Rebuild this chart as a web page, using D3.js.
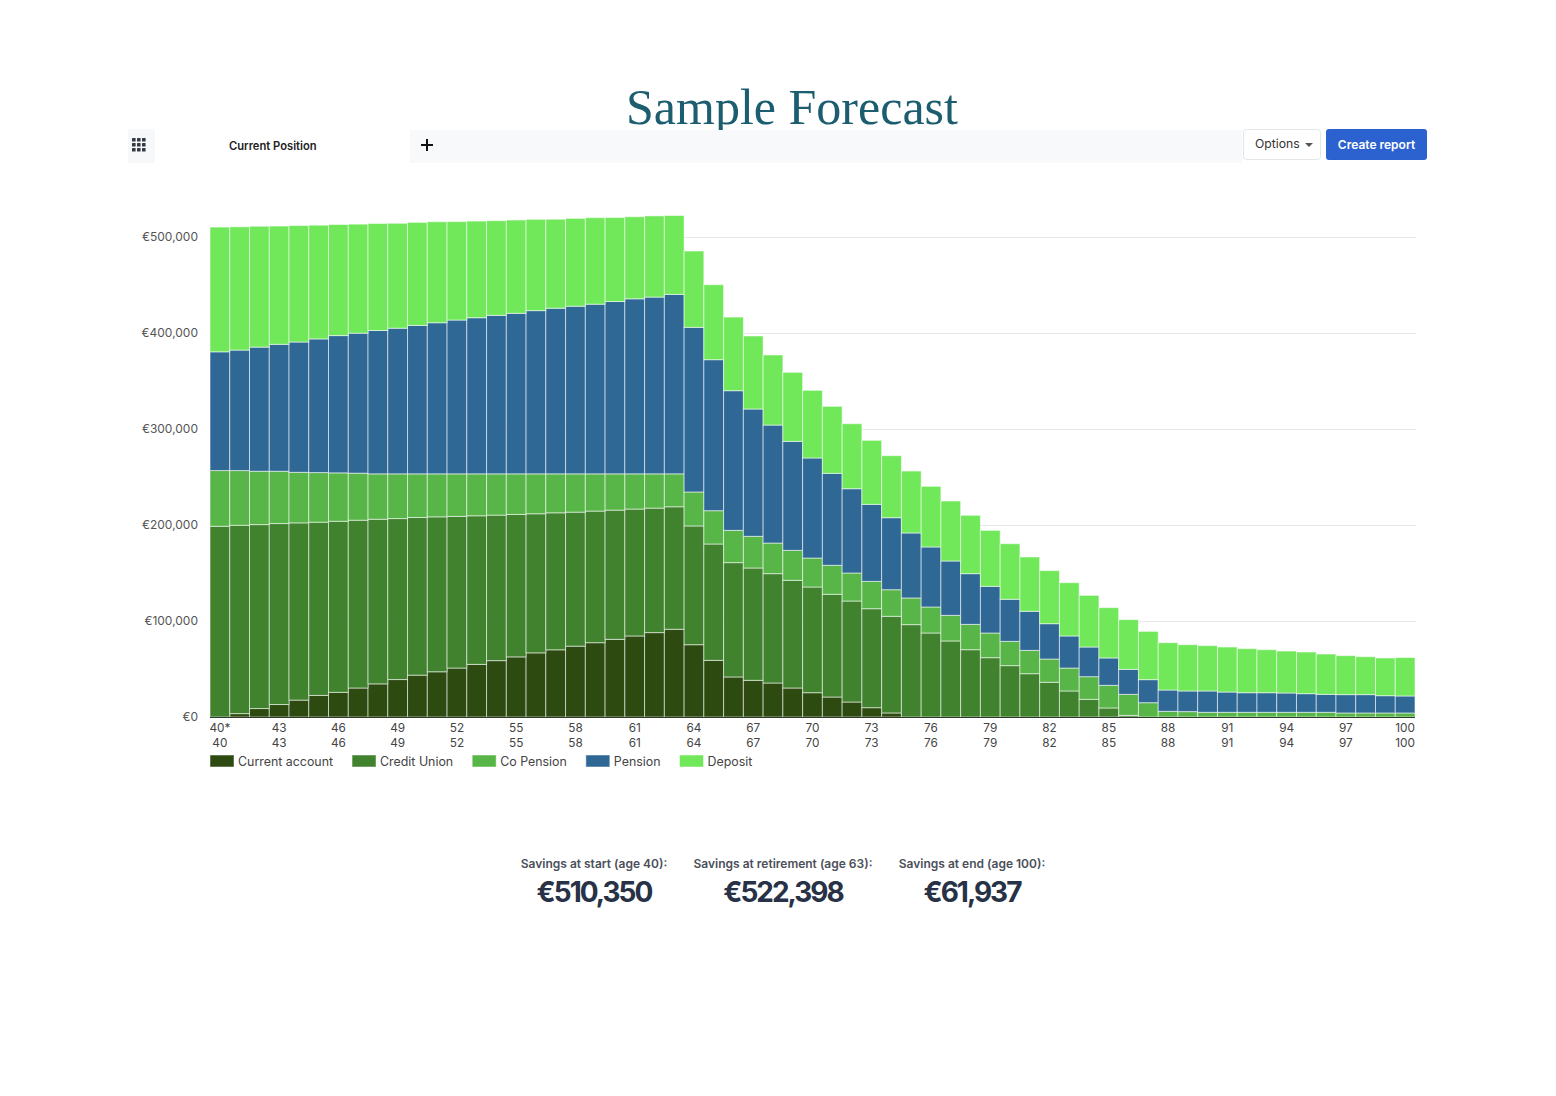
<!DOCTYPE html>
<html><head><meta charset="utf-8">
<script src="https://cdn.jsdelivr.net/npm/d3@7"></script>
<style>
body{margin:0;background:#fff;}
svg{display:block;font-family:Inter,"Noto Sans",sans-serif;}
</style></head><body>
<svg id="c" width="1556" height="1096"></svg>
<script>
const ages = [40,41,42,43,44,45,46,47,48,49,50,51,52,53,54,55,56,57,58,59,60,61,62,63,64,65,66,67,68,69,70,71,72,73,74,75,76,77,78,79,80,81,82,83,84,85,86,87,88,89,90,91,92,93,94,95,96,97,98,99,100];
const seriesNames = ["Current account","Credit Union","Co Pension","Pension","Deposit"];
const seriesColors = ["#2d4a10","#41822f","#58b548","#2f6895","#70e85a"];
const currentAccount = [0,3500,8800,13000,17600,22500,25700,30200,34500,39000,43600,47100,51000,54800,58700,62600,66800,70000,73800,77400,80900,84400,87900,91400,
  75300,59000,41700,38200,35400,30200,25300,20800,15600,9700,4200,0,0,0,0,0,0,0,0,0,0,0,0,0,0,0,0,0,0,0,0,0,0,0,0,0,0];
const creditUnion = [198700,196200,191600,188500,184600,180400,178200,174800,171500,167700,164200,161400,158000,154800,151600,148400,144900,142700,139600,137100,134600,132200,129700,127600,
  123700,121200,119100,117000,113900,112200,110100,107000,105200,103100,100700,96200,87500,79200,70100,61800,53500,45100,36200,27100,18400,9400,1700,0,0,0,0,0,0,0,0,0,0,0,0,0,0];
const coPension = [58000,57000,55600,54500,52700,51700,50400,49000,47300,46600,45500,44800,44300,43700,43000,42300,41600,40600,39900,38800,37800,36700,35700,34300,
  35400,34700,33600,33000,31900,31200,30200,30200,29200,28500,27700,27800,27100,26700,26400,25700,25300,24300,24200,23900,23600,23600,21900,14900,5900,5600,4900,4900,4900,4900,4900,4900,4900,4200,4200,4200,4200];
const pension = [123700,125500,129300,132200,135700,139200,143000,145800,149300,151700,154600,157400,160200,162600,165100,167200,170000,172500,174600,176700,179500,182300,184100,186900,
  171500,157300,145500,132600,122900,113500,104200,95800,87800,80200,75000,67700,62500,56600,52800,48600,43800,40700,36800,33400,30900,28500,26000,24000,22200,21500,22200,21100,20400,20400,20100,19400,18700,19100,19100,18000,17700];
const deposit = [129950,128400,125900,123200,121300,118500,115700,113600,111500,109300,107300,105200,102500,100700,98600,97200,95100,92700,91500,90100,87500,85500,84600,82198,
  79500,78100,76700,76100,73000,71900,70500,69800,67700,66700,64600,64500,63200,62500,60800,58300,57900,56600,55300,55500,53800,52400,51800,50300,49300,48200,47200,46900,45900,44800,43700,43400,42000,40600,39500,39300,40037];
const yTicks = [0,100000,200000,300000,400000,500000];
const xTickAges = [40,43,46,49,52,55,58,61,64,67,70,73,76,79,82,85,88,91,94,97,100];
const xTickTop = ["40*","43","46","49","52","55","58","61","64","67","70","73","76","79","82","85","88","91","94","97","100"];
const xTickBottom = ["40","43","46","49","52","55","58","61","64","67","70","73","76","79","82","85","88","91","94","97","100"];
const summaryLabels = ["Savings at start (age 40):","Savings at retirement (age 63):","Savings at end (age 100):"];
const summaryValues = ["€510,350","€522,398","€61,937"];

const svg = d3.select("#c");

// ---------- header ----------
svg.append("text").attr("x",792).attr("y",124).attr("text-anchor","middle")
  .attr("font-family","'Liberation Serif','DejaVu Serif',serif").attr("font-size",50)
  .attr("fill","#1c5e6f").text("Sample Forecast");

svg.append("rect").attr("x",128).attr("y",129).attr("width",27).attr("height",34).attr("fill","#f7f8fa");
const dots=[0,1,2];
dots.forEach(r=>dots.forEach(c=>{
  svg.append("rect").attr("x",132+c*5).attr("y",138+r*5).attr("width",3.6).attr("height",3.6).attr("rx",0.6).attr("fill","#333a44");
}));
svg.append("text").attr("x",229).attr("y",150).attr("font-size",11.2).attr("font-weight",600).attr("fill","#222").text("Current Position");
svg.append("rect").attr("x",410).attr("y",130).attr("width",832).attr("height",33).attr("fill","#f8f9fb");
svg.append("line").attr("x1",421).attr("x2",433).attr("y1",145).attr("y2",145).attr("stroke","#111").attr("stroke-width",2);
svg.append("line").attr("x1",427).attr("x2",427).attr("y1",139).attr("y2",151).attr("stroke","#111").attr("stroke-width",2);
svg.append("rect").attr("x",1243.5).attr("y",129.5).attr("width",77).attr("height",30).attr("rx",3).attr("fill","#fff").attr("stroke","#e2e5ea");
svg.append("text").attr("x",1255).attr("y",148).attr("font-size",12.2).attr("fill","#333").text("Options");
svg.append("path").attr("d","M1305,143 L1313,143 L1309,147 Z").attr("fill","#555");
svg.append("rect").attr("x",1326).attr("y",129).attr("width",101).attr("height",31).attr("rx",3).attr("fill","#2b62d0");
svg.append("text").attr("x",1376.5).attr("y",148.5).attr("text-anchor","middle").attr("font-size",12).attr("font-weight",600).attr("fill","#fff").text("Create report");

// ---------- chart ----------
const x = d3.scaleBand().domain(ages).range([210,1415]).padding(0);
const y = d3.scaleLinear().domain([0,500000]).range([717,237]);

svg.append("g").selectAll("line").data(yTicks.slice(1)).join("line")
  .attr("x1",210).attr("x2",1416).attr("y1",d=>y(d)+0.5).attr("y2",d=>y(d)+0.5)
  .attr("stroke","#e8e8ea").attr("stroke-width",1);

const yAxis = d3.axisLeft(y).tickValues(yTicks).tickSize(0).tickPadding(12)
  .tickFormat(d=>"€"+d3.format(",")(d));
const ga = svg.append("g").attr("transform","translate(210,0)").call(yAxis);
ga.select(".domain").remove();
ga.selectAll("text").attr("font-size",12).attr("fill","#555").attr("font-family","Inter,sans-serif");

const rows = ages.map((a,i)=>({age:a,"Current account":currentAccount[i],"Credit Union":creditUnion[i],"Co Pension":coPension[i],"Pension":pension[i],"Deposit":deposit[i]}));
const stack = d3.stack().keys(seriesNames)(rows);
const gBars = svg.append("g");
stack.forEach((layer,k)=>{
  gBars.append("g").attr("fill",seriesColors[k]).selectAll("rect").data(layer.filter(d=>d[1]-d[0]>0)).join("rect")
    .attr("x",d=>x(d.data.age)).attr("width",x.bandwidth())
    .attr("y",d=>y(d[1])).attr("height",d=>y(d[0])-y(d[1]))
    .attr("stroke","rgba(255,255,255,0.55)").attr("stroke-width",1);
});
svg.append("line").attr("x1",210).attr("x2",1415).attr("y1",717.5).attr("y2",717.5).attr("stroke","#2f3a2a").attr("stroke-width",1);

const xAxisTop = d3.axisBottom(x).tickValues(xTickAges).tickSize(0).tickPadding(6)
  .tickFormat(d=>xTickTop[xTickAges.indexOf(d)]);
const gx1 = svg.append("g").attr("transform","translate(0,718)").call(xAxisTop);
gx1.select(".domain").remove();
gx1.selectAll("text").attr("font-size",11.8).attr("fill","#444").attr("font-family","Inter,sans-serif");
const xAxisBottom = d3.axisBottom(x).tickValues(xTickAges).tickSize(0).tickPadding(21)
  .tickFormat(d=>xTickBottom[xTickAges.indexOf(d)]);
const gx2 = svg.append("g").attr("transform","translate(0,718)").call(xAxisBottom);
gx2.select(".domain").remove();
gx2.selectAll("text").attr("font-size",11.8).attr("fill","#444").attr("font-family","Inter,sans-serif");

// legend
let lx = 210;
seriesNames.forEach((n,k)=>{
  const g = svg.append("g");
  g.append("rect").attr("x",lx).attr("y",755).attr("width",24).attr("height",12).attr("fill",seriesColors[k]).attr("stroke","rgba(255,255,255,0.5)");
  const t = g.append("text").attr("x",lx+28).attr("y",765.5).attr("font-size",12.4).attr("fill","#444").text(n);
  lx += 28 + t.node().getComputedTextLength() + 19;
});

// summary
const sx = [594,783,972];
summaryLabels.forEach((s,i)=>{
  svg.append("text").attr("x",sx[i]).attr("y",868).attr("text-anchor","middle").attr("font-size",12).attr("font-weight",600).attr("fill","#4b505a").text(s);
  svg.append("text").attr("x",sx[i]).attr("y",902).attr("text-anchor","middle").attr("font-size",28).attr("font-weight",700).attr("letter-spacing",-2).attr("fill","#283247").text(summaryValues[i]);
});
</script>
</body></html>
